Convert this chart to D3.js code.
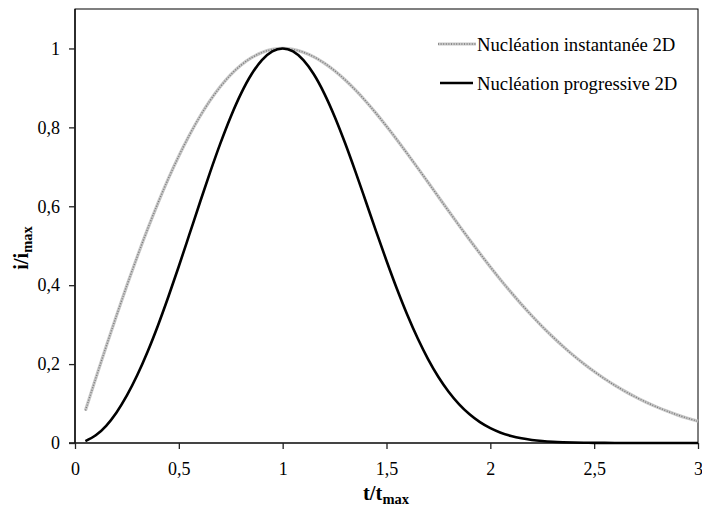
<!DOCTYPE html>
<html>
<head>
<meta charset="utf-8">
<script src="https://cdn.jsdelivr.net/npm/d3@7"></script>
<style>
  body { margin: 0; background: #fff; }
  text { font-family: "Liberation Serif", "Times New Roman", serif; }
</style>
</head>
<body>
<svg id="chart" width="702" height="509"></svg>
<script>
// Reduced time t/tmax
const tValues = [
  0.05, 0.10, 0.15, 0.20, 0.25, 0.30, 0.35, 0.40, 0.45, 0.50,
  0.55, 0.60, 0.65, 0.70, 0.75, 0.80, 0.85, 0.90, 0.95, 1.00,
  1.05, 1.10, 1.15, 1.20, 1.25, 1.30, 1.35, 1.40, 1.45, 1.50,
  1.55, 1.60, 1.65, 1.70, 1.75, 1.80, 1.85, 1.90, 1.95, 2.00,
  2.05, 2.10, 2.15, 2.20, 2.25, 2.30, 2.35, 2.40, 2.45, 2.50,
  2.55, 2.60, 2.65, 2.70, 2.75, 2.80, 2.85, 2.90, 2.95, 3.00
];

// i/imax, instantaneous 2D nucleation
const instantaneous = [
  0.0823, 0.1641, 0.2445, 0.3232, 0.3995, 0.4729, 0.5428, 0.6088, 0.6705, 0.7275,
  0.7795, 0.8263, 0.8676, 0.9033, 0.9334, 0.9578, 0.9765, 0.9897, 0.9975, 1.0000,
  0.9975, 0.9904, 0.9787, 0.9630, 0.9436, 0.9207, 0.8948, 0.8663, 0.8355, 0.8029,
  0.7688, 0.7335, 0.6974, 0.6608, 0.6240, 0.5873, 0.5510, 0.5152, 0.4803, 0.4463,
  0.4134, 0.3818, 0.3514, 0.3225, 0.2951, 0.2693, 0.2449, 0.2221, 0.2009, 0.1811,
  0.1628, 0.1459, 0.1305, 0.1163, 0.1034, 0.0916, 0.0810, 0.0713, 0.0627, 0.0550
];

// i/imax, progressive 2D nucleation
const progressive = [
  0.0049, 0.0195, 0.0437, 0.0775, 0.1205, 0.1722, 0.2319, 0.2986, 0.3712, 0.4480,
  0.5273, 0.6071, 0.6852, 0.7593, 0.8270, 0.8861, 0.9345, 0.9704, 0.9925, 1.0000,
  0.9925, 0.9704, 0.9345, 0.8863, 0.8277, 0.7609, 0.6884, 0.6128, 0.5365, 0.4619,
  0.3909, 0.3250, 0.2654, 0.2128, 0.1674, 0.1293, 0.0979, 0.0727, 0.0528, 0.0376,
  0.0262, 0.0179, 0.0119, 0.0078, 0.0050, 0.0031, 0.0019, 0.0011, 0.0006, 0.0004,
  0.0002, 0.0001, 0.0001, 0.0000, 0.0000, 0.0000, 0.0000, 0.0000, 0.0000, 0.0000
];

const xTicks = [0, 0.5, 1, 1.5, 2, 2.5, 3];
const yTicks = [0, 0.2, 0.4, 0.6, 0.8, 1];
const legendLabels = ["Nucléation instantanée 2D", "Nucléation progressive 2D"];

const svg = d3.select("#chart");
const margin = { left: 75, top: 9, right: 4, bottom: 66 };
const W = 702, H = 509;

const x = d3.scaleLinear().domain([0, 3]).range([margin.left, W - margin.right]);
const y = d3.scaleLinear().domain([0, 1.1]).range([H - margin.bottom, margin.top]);

const fmt = d => String(d).replace(".", ",");

// Plot frame (top and right edges)
svg.append("rect")
  .attr("x", x(0)).attr("y", y(1.1))
  .attr("width", x(3) - x(0)).attr("height", y(0) - y(1.1))
  .attr("fill", "none").attr("stroke", "#000").attr("stroke-width", 1);

// Axes
const xAxis = svg.append("g")
  .attr("transform", `translate(0,${y(0)})`)
  .call(d3.axisBottom(x).tickValues(xTicks).tickFormat(fmt).tickSize(6).tickPadding(13));
const yAxis = svg.append("g")
  .attr("transform", `translate(${x(0)},0)`)
  .call(d3.axisLeft(y).tickValues(yTicks).tickFormat(fmt).tickSize(6).tickPadding(9));

[xAxis, yAxis].forEach(g => {
  g.attr("font-size", null).attr("font-family", null);
  g.selectAll("text").attr("font-size", 18).attr("fill", "#000");
  g.selectAll("line").attr("stroke", "#222");
});
yAxis.select(".domain").attr("stroke", "#000").attr("stroke-width", 1.3)
  .attr("d", `M0,${y(0)}V${y(1.1)}`);
xAxis.select(".domain").attr("stroke", "#444").attr("stroke-width", 2)
  .attr("d", `M${-6},0H${x(3) - x(0)}`).attr("transform", `translate(${x(0)},0)`);
xAxis.selectAll(".tick line").attr("stroke-width", 1.3);
yAxis.selectAll(".tick line").attr("stroke-width", 1.3);

const line = series => d3.line()
  .x((d, i) => x(tValues[i]))
  .y(d => y(d))
  .curve(d3.curveMonotoneX)(series);

// Instantaneous curve: grey stippled band
function drawStipple(sel, d) {
  sel.append("path").attr("d", d).attr("fill", "none")
    .attr("stroke", "#c8c8c8").attr("stroke-width", 3.2);
  sel.append("path").attr("d", d).attr("fill", "none")
    .attr("stroke", "#7a7a7a").attr("stroke-width", 1.4)
    .attr("stroke-dasharray", "1,1.6");
}
drawStipple(svg.append("g"), line(instantaneous));

// Progressive curve
svg.append("path").attr("d", line(progressive)).attr("fill", "none")
  .attr("stroke", "#000").attr("stroke-width", 2.6).attr("stroke-linejoin", "round");

// Legend
const legend = svg.append("g");
drawStipple(legend, `M438,44H476`);
legend.append("line").attr("x1", 440).attr("x2", 473).attr("y1", 83).attr("y2", 83)
  .attr("stroke", "#000").attr("stroke-width", 2.6);
legendLabels.forEach((t, i) => {
  legend.append("text").attr("x", 477).attr("y", 51 + i * 39)
    .attr("font-size", 18.7).attr("fill", "#000").text(t);
});

// Axis titles
const xt = svg.append("text").attr("x", 386).attr("y", 500)
  .attr("text-anchor", "middle").attr("font-weight", "bold").attr("font-size", 20.5);
xt.append("tspan").text("t/t");
xt.append("tspan").attr("font-size", 14.5).attr("dy", 4).text("max");

const yt = svg.append("text")
  .attr("transform", `translate(28,248) rotate(-90)`)
  .attr("text-anchor", "middle").attr("font-weight", "bold").attr("font-size", 20.5);
yt.append("tspan").text("i/i");
yt.append("tspan").attr("font-size", 14.5).attr("dy", 4).text("max");
</script>
</body>
</html>
